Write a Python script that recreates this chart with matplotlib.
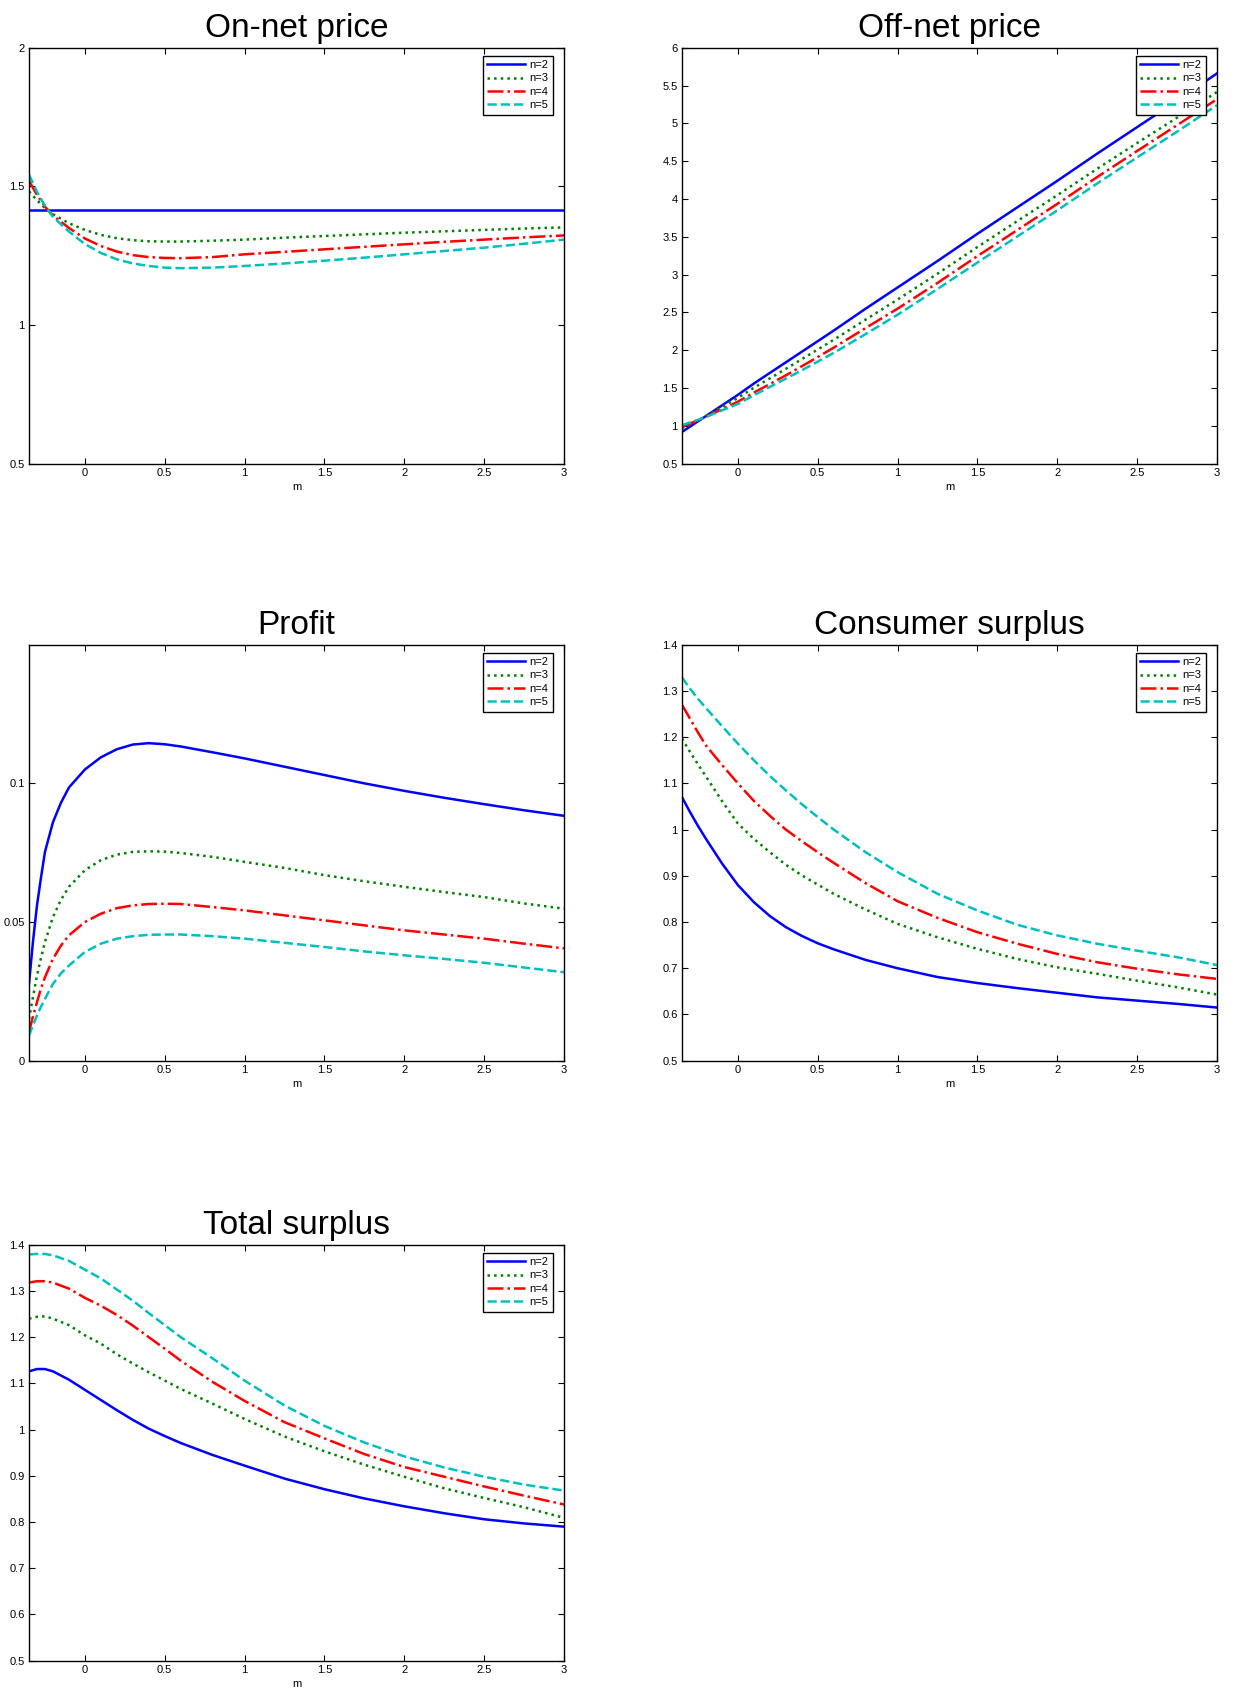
import numpy as np
import matplotlib
matplotlib.use("Agg")
import matplotlib.pyplot as plt

plt.rcParams['font.family'] = ['Liberation Sans', 'DejaVu Sans']

# --- data ----------------------------------------------------------------
labels = ['n=2', 'n=3', 'n=4', 'n=5']

m_grid = [-0.35, -0.3, -0.25, -0.2, -0.1, 0.0, 0.1, 0.2, 0.3, 0.4, 0.5, 0.6,
          0.8, 1.0, 1.25, 1.5, 1.75, 2.0, 2.25, 2.5, 2.75, 3.0]

# On-net price
onnet_n2 = [1.414] * 22
onnet_n3 = [1.482, 1.45, 1.422, 1.40, 1.367, 1.343, 1.325, 1.313, 1.306, 1.302, 1.301, 1.301,
            1.304, 1.308, 1.315, 1.321, 1.327, 1.333, 1.338, 1.343, 1.348, 1.352]
onnet_n4 = [1.52, 1.469, 1.427, 1.395, 1.35, 1.312, 1.285, 1.265, 1.252, 1.245, 1.242, 1.241,
            1.245, 1.255, 1.264, 1.273, 1.282, 1.291, 1.30, 1.308, 1.316, 1.323]
onnet_n5 = [1.542, 1.48, 1.43, 1.39, 1.337, 1.292, 1.26, 1.237, 1.222, 1.213, 1.207, 1.205,
            1.207, 1.213, 1.222, 1.232, 1.243, 1.255, 1.267, 1.279, 1.293, 1.308]

# Off-net price
offnet_n2 = [0.92, 0.99, 1.06, 1.13, 1.27, 1.41, 1.56, 1.70, 1.84, 1.98, 2.12, 2.26,
             2.55, 2.83, 3.18, 3.54, 3.89, 4.24, 4.60, 4.95, 5.30, 5.66]
offnet_n3 = [0.97, 1.02, 1.07, 1.13, 1.25, 1.37, 1.504, 1.628, 1.754, 1.882, 2.01, 2.138,
             2.405, 2.67, 3.012, 3.365, 3.708, 4.05, 4.40, 4.74, 5.075, 5.415]
offnet_n4 = [0.99, 1.03, 1.075, 1.12, 1.22, 1.32, 1.44, 1.553, 1.668, 1.788, 1.91, 2.034,
             2.294, 2.55, 2.89, 3.245, 3.59, 3.935, 4.29, 4.635, 4.975, 5.32]
offnet_n5 = [1.01, 1.045, 1.08, 1.118, 1.205, 1.29, 1.405, 1.515, 1.625, 1.735, 1.85, 1.965,
             2.214, 2.47, 2.81, 3.16, 3.505, 3.85, 4.205, 4.55, 4.89, 5.24]

# Profit (finer near the left edge)
m_profit = [-0.35, -0.325, -0.3, -0.275, -0.25, -0.2, -0.15, -0.1, 0.0, 0.1, 0.2, 0.3, 0.4,
            0.5, 0.6, 0.8, 1.0, 1.25, 1.5, 1.75, 2.0, 2.25, 2.5, 2.75, 3.0]
profit_n2 = [0.0277, 0.043, 0.056, 0.066, 0.0753, 0.086, 0.093, 0.0985, 0.1050, 0.1094, 0.1123,
             0.1140, 0.1145, 0.1141, 0.1133, 0.1112, 0.109, 0.106, 0.103, 0.100, 0.0973,
             0.0948, 0.0925, 0.0903, 0.0883]
profit_n3 = [0.015, 0.023, 0.0307, 0.037, 0.0428, 0.0518, 0.058, 0.0627, 0.0687, 0.0723, 0.0743,
             0.0753, 0.0755, 0.0754, 0.0749, 0.0735, 0.0717, 0.0695, 0.0669, 0.0647, 0.0627,
             0.0608, 0.059, 0.0567, 0.0548]
profit_n4 = [0.0105, 0.016, 0.0211, 0.026, 0.0301, 0.0367, 0.0415, 0.0452, 0.050, 0.053, 0.055,
             0.056, 0.0565, 0.0566, 0.0565, 0.0554, 0.0542, 0.0524, 0.0506, 0.0488, 0.047,
             0.0455, 0.044, 0.0422, 0.0405]
profit_n5 = [0.009, 0.0128, 0.0163, 0.0195, 0.0223, 0.0277, 0.0315, 0.0343, 0.0392, 0.0422, 0.044,
             0.0449, 0.0454, 0.0455, 0.0455, 0.0449, 0.044, 0.0425, 0.041, 0.0394, 0.038,
             0.0367, 0.0353, 0.0336, 0.0319]

# Consumer surplus
cs_n2 = [1.070, 1.038, 1.008, 0.980, 0.927, 0.880, 0.843, 0.813, 0.789, 0.770, 0.754, 0.741,
         0.718, 0.700, 0.681, 0.668, 0.657, 0.647, 0.637, 0.630, 0.623, 0.615]
cs_n3 = [1.197, 1.168, 1.141, 1.115, 1.062, 1.013, 0.980, 0.951, 0.924, 0.901, 0.881, 0.861,
         0.827, 0.796, 0.767, 0.742, 0.720, 0.702, 0.688, 0.673, 0.659, 0.643]
cs_n4 = [1.270, 1.240, 1.210, 1.182, 1.140, 1.100, 1.062, 1.030, 1.000, 0.975, 0.951, 0.928,
         0.884, 0.845, 0.809, 0.778, 0.753, 0.731, 0.713, 0.699, 0.687, 0.677]
cs_n5 = [1.329, 1.305, 1.283, 1.263, 1.224, 1.186, 1.150, 1.116, 1.085, 1.055, 1.027, 1.000,
         0.951, 0.908, 0.861, 0.825, 0.794, 0.771, 0.753, 0.738, 0.724, 0.707]

# Total surplus
ts_n2 = [1.126, 1.131, 1.131, 1.126, 1.108, 1.086, 1.064, 1.042, 1.021, 1.002, 0.986, 0.971,
         0.945, 0.922, 0.894, 0.871, 0.851, 0.834, 0.819, 0.806, 0.797, 0.790]
ts_n3 = [1.240, 1.244, 1.245, 1.240, 1.226, 1.204, 1.186, 1.163, 1.143, 1.124, 1.106, 1.088,
         1.056, 1.023, 0.985, 0.953, 0.924, 0.898, 0.873, 0.852, 0.832, 0.809]
ts_n4 = [1.318, 1.321, 1.321, 1.318, 1.305, 1.285, 1.268, 1.248, 1.225, 1.200, 1.175, 1.149,
         1.103, 1.062, 1.016, 0.981, 0.947, 0.919, 0.898, 0.877, 0.857, 0.838]
ts_n5 = [1.379, 1.380, 1.380, 1.377, 1.365, 1.346, 1.327, 1.303, 1.279, 1.252, 1.226, 1.200,
         1.154, 1.106, 1.052, 1.008, 0.972, 0.942, 0.918, 0.898, 0.881, 0.868]

x_ticks = [0, 0.5, 1, 1.5, 2, 2.5, 3]
x_ticklabels = ['0', '0.5', '1', '1.5', '2', '2.5', '3']

# --- styling --------------------------------------------------------------
colors = ['#0000ff', '#008000', '#ff0000', '#00bfbf']
styles = ['-', ':', '-.', '--']

W, H = 1233, 1692
fig = plt.figure(figsize=(W / 100, H / 100), dpi=100)

ax_w, ax_h = 535 / W, 416 / H
col_left = [29 / W, 682 / W]
row_bottom = [1 - 463.7 / H, 1 - 1060.7 / H, 1 - 1660.7 / H]


def make_panel(rect, title, xs, series, ylim, yticks):
    ax = fig.add_axes(rect)
    for ys, c, ls, lab in zip(series, colors, styles, labels):
        ax.plot(xs, ys, color=c, linestyle=ls, linewidth=1.8, label=lab)
    ax.set_xlim(-0.35, 3)
    ax.set_ylim(*ylim)
    ax.set_xticks(x_ticks)
    ax.set_xticklabels(x_ticklabels)
    ax.set_yticks(yticks)
    ax.set_yticklabels(['%g' % v for v in yticks])
    ax.tick_params(direction='in', length=4, width=0.8, labelsize=8, pad=3,
                   top=True, right=True)
    for sp in ax.spines.values():
        sp.set_linewidth(1.0)
    ax.set_title(title, fontsize=24, pad=8)
    ax.set_xlabel('m', fontsize=8, labelpad=3)
    leg = ax.legend(loc='upper right', bbox_to_anchor=(1 - 11 / 535, 1 - 8 / 416),
                    borderaxespad=0, fontsize=8, handlelength=3.4, handletextpad=0.4,
                    labelspacing=0.3, borderpad=0.4, fancybox=False, framealpha=1)
    leg.get_frame().set_edgecolor('black')
    leg.get_frame().set_linewidth(1.0)
    return ax


make_panel([col_left[0], row_bottom[0], ax_w, ax_h], 'On-net price', m_grid,
           [onnet_n2, onnet_n3, onnet_n4, onnet_n5], (0.5, 2), [0.5, 1, 1.5, 2])

make_panel([col_left[1], row_bottom[0], ax_w, ax_h], 'Off-net price', m_grid,
           [offnet_n2, offnet_n3, offnet_n4, offnet_n5], (0.5, 6),
           [0.5, 1, 1.5, 2, 2.5, 3, 3.5, 4, 4.5, 5, 5.5, 6])

make_panel([col_left[0], row_bottom[1], ax_w, ax_h], 'Profit', m_profit,
           [profit_n2, profit_n3, profit_n4, profit_n5], (0, 0.15), [0, 0.05, 0.1])

surplus_ticks = [0.5, 0.6, 0.7, 0.8, 0.9, 1, 1.1, 1.2, 1.3, 1.4]
make_panel([col_left[1], row_bottom[1], ax_w, ax_h], 'Consumer surplus', m_grid,
           [cs_n2, cs_n3, cs_n4, cs_n5], (0.5, 1.4), surplus_ticks)

make_panel([col_left[0], row_bottom[2], ax_w, ax_h], 'Total surplus', m_grid,
           [ts_n2, ts_n3, ts_n4, ts_n5], (0.5, 1.4), surplus_ticks)

fig.savefig('out.png', dpi=100)
